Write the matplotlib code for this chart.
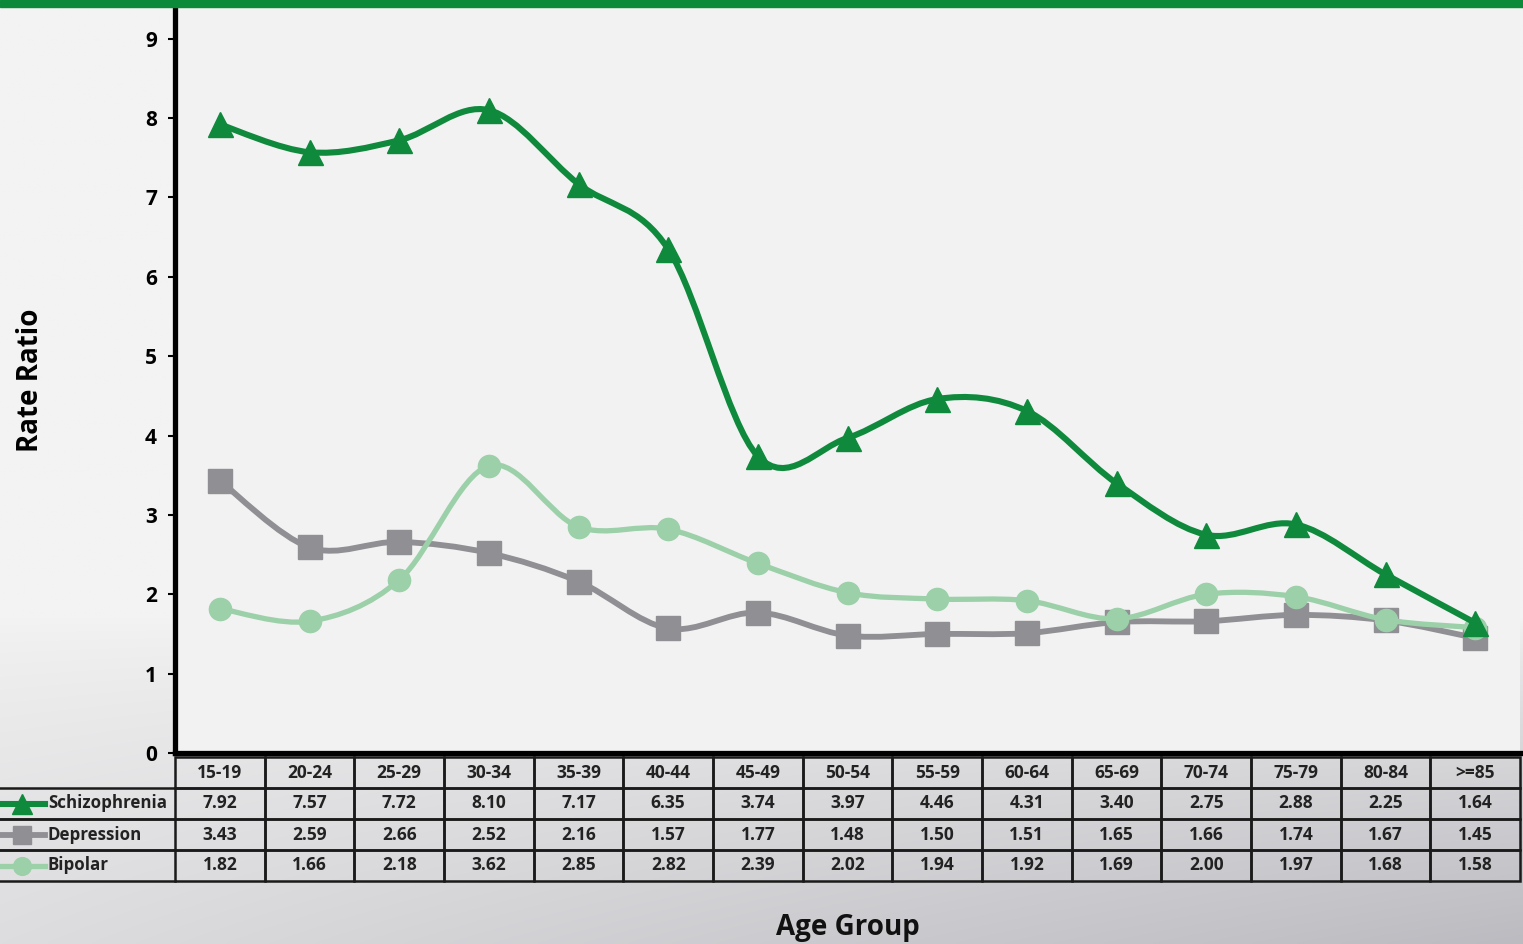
import numpy as np
import matplotlib
matplotlib.use("Agg")
import matplotlib.pyplot as plt
from matplotlib.path import Path
from matplotlib.patches import PathPatch, Rectangle
from matplotlib.lines import Line2D
from matplotlib.transforms import blended_transform_factory

# data
ages = ["15-19", "20-24", "25-29", "30-34", "35-39", "40-44", "45-49", "50-54",
        "55-59", "60-64", "65-69", "70-74", "75-79", "80-84", ">=85"]
schizo = [7.92, 7.57, 7.72, 8.10, 7.17, 6.35, 3.74, 3.97, 4.46, 4.31, 3.40, 2.75, 2.88, 2.25, 1.64]
depress = [3.43, 2.59, 2.66, 2.52, 2.16, 1.57, 1.77, 1.48, 1.50, 1.51, 1.65, 1.66, 1.74, 1.67, 1.45]
bipolar = [1.82, 1.66, 2.18, 3.62, 2.85, 2.82, 2.39, 2.02, 1.94, 1.92, 1.69, 2.00, 1.97, 1.68, 1.58]

series = [
    ("Schizophrenia", schizo, "#0f8a3c", "^", 18, 4.4),
    ("Depression", depress, "#8f8f94", "s", 17, 4.2),
    ("Bipolar", bipolar, "#9bd0a9", "o", 16, 3.8),
]

plt.rcParams["font.family"] = ["Open Sans", "DejaVu Sans"]

W, H = 1523, 944
fig = plt.figure(figsize=(W / 100, H / 100), dpi=100)

# background gradient (light on top, greyer towards bottom right)
bg = fig.add_axes([0, 0, 1, 1], zorder=-5)
yy, xx = np.mgrid[0:1:300j, 0:1:300j]
ty = np.clip((yy * H - 620) / (H - 620), 0, 1) ** 0.75
dark = ty * (22 + 34 * xx)
img = np.dstack([243 - dark, 243 - dark, 243 - dark * 0.9]) / 255
bg.imshow(img, extent=[0, 1, 0, 1], aspect="auto", origin="upper", interpolation="bilinear")
bg.axis("off")

# green bar at top
fig.add_artist(Rectangle((0, 1 - 7 / H), 1, 7 / H, transform=fig.transFigure,
                         color="#0c8a3a", zorder=10))

left, right = 175 / W, 1520 / W
top, bottom = 1 - 7 / H, 1 - 753 / H
ax = fig.add_axes([left, bottom, right - left, top - bottom])
ax.set_facecolor("#f2f2f2")


def smooth_path(xs, ys):
    # excel-like smoothed line as cubic bezier segments
    n = len(xs)
    verts = [(xs[0], ys[0])]
    codes = [Path.MOVETO]
    for i in range(n - 1):
        a = i - 1 if i > 0 else i
        b = i + 2 if i + 2 < n else i + 1
        c1 = (xs[i] + (xs[i + 1] - xs[a]) / 6, ys[i] + (ys[i + 1] - ys[a]) / 6)
        c2 = (xs[i + 1] - (xs[b] - xs[i]) / 6, ys[i + 1] - (ys[b] - ys[i]) / 6)
        verts += [c1, c2, (xs[i + 1], ys[i + 1])]
        codes += [Path.CURVE4] * 3
    return Path(verts, codes)


x = np.arange(len(ages))
zs = {"Schizophrenia": 5, "Depression": 3, "Bipolar": 4}
for name, vals, col, mk, ms, lw in series:
    ax.add_patch(PathPatch(smooth_path(x, vals), fill=False, edgecolor=col,
                           lw=lw, zorder=zs[name], capstyle="round", joinstyle="round"))
    ax.plot(x, vals, ls="none", marker=mk, ms=ms, color=col, zorder=zs[name])

ax.set_xlim(-0.5, len(ages) - 0.5)
ax.set_ylim(0, 9.4)
ax.set_yticks(range(0, 10))
ax.set_xticks([])
for s in ["top", "right"]:
    ax.spines[s].set_visible(False)
ax.spines["left"].set_linewidth(3.8)
ax.spines["bottom"].set_linewidth(3.8)
ax.tick_params(axis="y", length=5, width=1.5, labelsize=15, pad=8)
for t in ax.get_yticklabels():
    t.set_fontweight("bold")
ax.set_ylabel("Rate Ratio", fontsize=20, fontweight="bold", labelpad=72)

# data table below the axes
tr = blended_transform_factory(ax.transData, ax.transAxes)
trl = blended_transform_factory(fig.transFigure, ax.transAxes)
row_edges = [(753 - y) / (top - bottom) / H for y in (757, 788, 819, 850, 881)]
rows = [ages] + [["%.2f" % v for v in s[1]] for s in series]

for r in range(4):
    y0, y1 = row_edges[r + 1], row_edges[r]
    for c in range(len(ages)):
        ax.add_patch(Rectangle((c - 0.5, y0), 1, y1 - y0, transform=tr, fill=False,
                               ec="#1a1a1a", lw=1.8, clip_on=False))
        ax.text(c, (y0 + y1) / 2, rows[r][c], transform=tr, ha="center", va="center",
                fontsize=12.5, fontweight="bold", color="#222222", clip_on=False)

# row labels with legend keys
for r, (name, vals, col, mk, ms, lw) in enumerate(series):
    y0, y1 = row_edges[r + 2], row_edges[r + 1]
    ym = (y0 + y1) / 2
    for yv in (y0, y1):
        fig.add_artist(Line2D([0, left], [yv, yv], transform=trl, color="#1a1a1a", lw=1.8))
    fig.add_artist(Line2D([0, 45 / W], [ym, ym], transform=trl, color=col, lw=lw))
    fig.add_artist(Line2D([22 / W], [ym], transform=trl, color=col, marker=mk, ms=ms * 0.8))
    fig.text(48 / W, ym, name, transform=trl, ha="left", va="center",
             fontsize=12.2, fontweight="bold", color="#222222")

fig.text((left + right) / 2, 1 - 928 / H, "Age Group", ha="center", va="center",
         fontsize=20, fontweight="bold", color="#111111")

fig.savefig("out.png", dpi=100)
